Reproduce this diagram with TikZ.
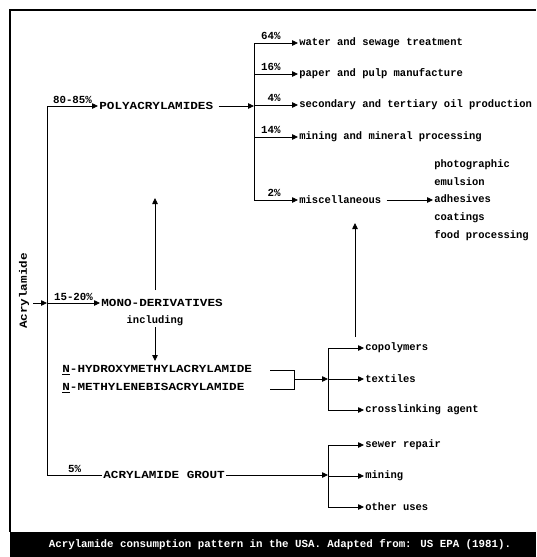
\documentclass[tikz,border=0pt]{standalone}
\usepackage{fontspec}
\setmainfont{Liberation Mono}
\newfontfamily\capsfont{Liberation Mono}[FakeStretch=1.17]
\newfontfamily\labfont{Liberation Mono}[FakeStretch=0.97]
\usetikzlibrary{arrows.meta, positioning}
\tikzset{>={Triangle[length=6pt,width=5.5pt]}}
\tikzset{
  lbl/.style={font=\labfont\fontsize{10.8}{13}\selectfont\bfseries, inner sep=1pt, anchor=west},
  caps/.style={lbl, font=\capsfont\fontsize{10.8}{13}\selectfont\bfseries},
  pct/.style={font=\fontsize{10.8}{13}\selectfont\bfseries, inner sep=1pt},
}

\begin{document}
\begin{tikzpicture}[x=1pt, y=-1pt, line width=0.8pt]
			\useasboundingbox (0,0) rectangle (536,557);
			\fill[black] (10,532) rectangle (536,557);
			\draw[line width=2.5pt] (10,10) -- (536,10);
			\draw[line width=2pt] (10,9) -- (10,532);
			\node[pct, text=white] (caption) at (280,545) {Acrylamide consumption pattern in the USA. Adapted from: US EPA (1981).};
			\node[caps, rotate=90, anchor=center] (acryl) at (24,291) {Acrylamide};
			\coordinate (entry) at (33,303);
			\coordinate (top) at (47,106);
			\coordinate (mid) at (47,303);
			\coordinate (bot) at (47,475);
			\draw (top) -- (bot);
			\draw [->] (entry) -- (mid);
			% polyacrylamides
			\node[caps] (poly) at (98,106) {POLYACRYLAMIDES};
			\draw [->] (top) -- node[pct, above=1pt]{80-85\%} (poly);
			\coordinate (polyj) at (254,106);
			\draw [->] ([xshift=4pt]poly.east) -- (polyj);
			\draw (254,43) -- (254,200);
			\foreach \y/\p/\txt/\n in {43/64/water and sewage treatment/water, 74/16/paper and pulp manufacture/paper, 105/4/secondary and tertiary oil production/oil, 137/14/mining and mineral processing/mine, 200/2/miscellaneous/misc} {
				\coordinate (j\n) at (254,\y);
				\node[lbl] (\n) at (298,\y) {\txt};
				\node[pct, anchor=south east] (p\n) at (282,\y-2) {\p\%};
				\draw [->] (j\n) -- (\n);
			}
			\node[lbl, align=left, font=\labfont\fontsize{10.8}{17.75}\selectfont\bfseries] (misclist) at (433,200) {photographic\\emulsion\\adhesives\\coatings\\food processing};
			\draw [->] ([xshift=4pt]misc.east) -- (misc.east -| misclist.west);
			\coordinate (cpfrom) at (355,337);
			\coordinate (cpto) at (355,223);
			\draw [->] (cpfrom) -- (cpto);
			% mono-derivatives
			\node[caps] (mono) at (100,303) {MONO-DERIVATIVES};
			\draw [->] (mid) -- node[pct, above=1pt]{15-20\%} (mono);
			\node[lbl, anchor=center] (incl) at (155,321) {including};
			\coordinate (upfrom) at (155,290);
			\coordinate (upto) at (155,198);
			\draw [->] (upfrom) -- (upto);
			\coordinate (downto) at (155,361);
			\draw [->] (incl.south) -- (downto);
			\node[caps] (hydr) at (61,370) {\underline{N}-HYDROXYMETHYLACRYLAMIDE};
			\node[caps] (meth) at (61,388) {\underline{N}-METHYLENEBISACRYLAMIDE};
			\coordinate (bra) at (270,370);
			\coordinate (brb) at (270,389);
			\coordinate (brm) at (294,379);
			\coordinate (derj) at (328,379);
			\draw (bra) -- (294,370) -- (294,389) -- (brb);
			\draw [->] (brm) -- (derj);
			\draw (328,348) -- (328,410);
			\foreach \y/\txt/\n in {348/copolymers/copo, 379/textiles/textl, 410/crosslinking agent/cross} {
				\coordinate (j\n) at (328,\y);
				\node[lbl] (\n) at (364,\y) {\txt};
				\draw [->] (j\n) -- (\n);
			}
			% grout
			\node[caps] (grout) at (102,475) {ACRYLAMIDE GROUT};
			\draw (bot) -- node[pct, above=1pt]{5\%} (grout);
			\coordinate (groutj) at (328,475);
			\draw [->] (grout) -- (groutj);
			\draw (328,445) -- (328,507);
			\foreach \y/\txt/\n in {445/sewer repair/sewer, 476/mining/mining, 507/other uses/other} {
				\coordinate (j\n) at (328,\y);
				\node[lbl] (\n) at (364,\y) {\txt};
				\draw [->] (j\n) -- (\n);
			}
		\end{tikzpicture}
\end{document}
